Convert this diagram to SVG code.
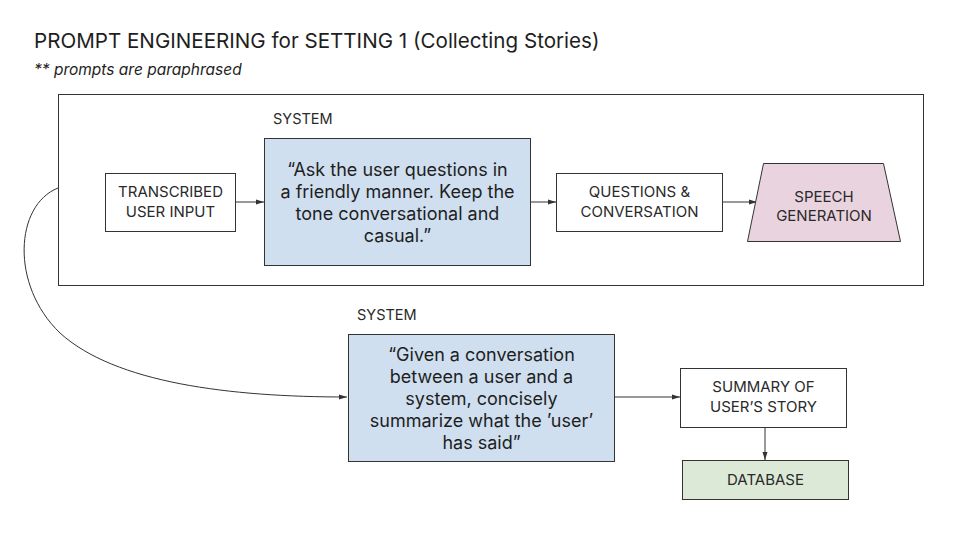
<svg xmlns="http://www.w3.org/2000/svg" width="960" height="540" viewBox="0 0 960 540">
<style>
text{font-family:Inter,"Liberation Sans",sans-serif;fill:#1e1e1e}
.lbl{font-size:15px;text-anchor:middle;fill:#2a2a2a}
.sys{font-size:14.5px;fill:#2a2a2a}
.big{font-size:18px;text-anchor:middle}
.box{fill:#fff;stroke:#333;stroke-width:1}
.blue{fill:#cfdff0;stroke:#333;stroke-width:1}
.con{fill:none;stroke:#333;stroke-width:1;marker-end:url(#ah)}
</style>
<defs>
<marker id="ah" viewBox="0 0 8 6" refX="8" refY="3" markerWidth="8" markerHeight="6" markerUnits="userSpaceOnUse" orient="auto"><path d="M0,0.5 L8,3 L0,5.5 z" fill="#333"/></marker>
</defs>
<rect width="960" height="540" fill="#fff"/>
<text x="34" y="48" style="font-size:20.6px">PROMPT ENGINEERING for SETTING 1 (Collecting Stories)</text>
<text x="34" y="75" style="font-size:15.5px;font-style:italic">** prompts are paraphrased</text>
<g id="frame"><rect x="58.5" y="94.5" width="865" height="191" fill="none" stroke="#333"/></g>
<g id="connectors">
<line class="con" x1="235" y1="202" x2="264" y2="202"/>
<line class="con" x1="530" y1="202" x2="556" y2="202"/>
<line class="con" x1="722" y1="202" x2="757" y2="202"/>
<path class="con" d="M58,188 C15,205 10,285 60,333 C115,383 230,397 347,397"/>
<line class="con" x1="614" y1="397" x2="680" y2="397"/>
<line class="con" x1="765" y1="427" x2="765" y2="460"/>
</g>
<g id="transcribed">
<rect class="box" x="105.5" y="173.5" width="130" height="58"/>
<text class="lbl" x="170.5" y="197">TRANSCRIBED</text>
<text class="lbl" x="170.5" y="217">USER INPUT</text>
</g>
<g id="prompt1">
<text class="sys" x="273" y="124">SYSTEM</text>
<rect class="blue" x="264.5" y="138.5" width="266" height="127"/>
<text class="big" x="397.5" y="176">“Ask the user questions in</text>
<text class="big" x="397.5" y="198">a friendly manner. Keep the</text>
<text class="big" x="397.5" y="220">tone conversational and</text>
<text class="big" x="397.5" y="242">casual.”</text>
</g>
<g id="questions">
<rect class="box" x="556.5" y="173.5" width="166" height="58"/>
<text class="lbl" x="639.5" y="197">QUESTIONS &amp;</text>
<text class="lbl" x="639.5" y="217">CONVERSATION</text>
</g>
<g id="speech">
<polygon points="763.5,163.5 883.5,163.5 900.5,241.5 747.5,241.5" fill="#e9d3de" stroke="#333"/>
<text class="lbl" x="824" y="202">SPEECH</text>
<text class="lbl" x="824" y="221">GENERATION</text>
</g>
<g id="prompt2">
<text class="sys" x="357" y="320">SYSTEM</text>
<rect class="blue" x="348.5" y="334.5" width="266" height="127"/>
<text class="big" x="481.5" y="361">“Given a conversation</text>
<text class="big" x="481.5" y="383">between a user and a</text>
<text class="big" x="481.5" y="405">system, concisely</text>
<text class="big" x="481.5" y="427">summarize what the ’user’</text>
<text class="big" x="481.5" y="449">has said”</text>
</g>
<g id="summary">
<rect class="box" x="680.5" y="368.5" width="166" height="59"/>
<text class="lbl" x="763.5" y="392">SUMMARY OF</text>
<text class="lbl" x="763.5" y="412">USER’S STORY</text>
</g>
<g id="database">
<rect x="682.5" y="460.5" width="166" height="39" fill="#dbe9d6" stroke="#333"/>
<text class="lbl" x="765.5" y="485">DATABASE</text>
</g>
</svg>
